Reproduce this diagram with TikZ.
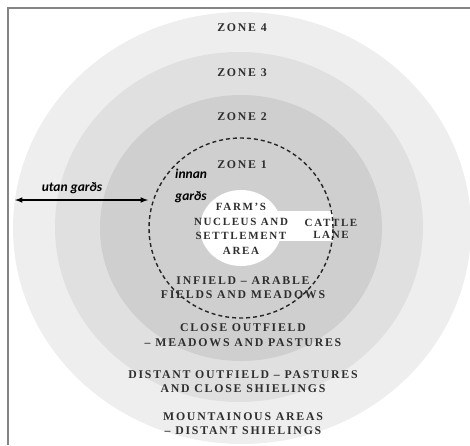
\documentclass[tikz,border=0pt]{standalone}
\usepackage{fontspec}
\setmainfont{Liberation Serif}
\newfontfamily\zonefont{Liberation Serif}[LetterSpace=15]
\newfontfamily\gardfont{Carlito}
\usetikzlibrary{positioning}
\usetikzlibrary{arrows}
\definecolor{zonefour}{HTML}{EEEEEE}
\definecolor{zonethree}{HTML}{E0E0E0}
\definecolor{zonetwo}{HTML}{CFCFCF}
\definecolor{textgrey}{HTML}{2E2E2E}
\definecolor{framegrey}{HTML}{858585}
\tikzstyle{zonelabel}=[font=\zonefont\bfseries\fontsize{11.8}{14.5}\selectfont,text=textgrey,align=center,inner sep=0pt]
\tikzstyle{smallzonelabel}=[zonelabel,font=\zonefont\bfseries\fontsize{11}{14.6}\selectfont]
\tikzstyle{gardlabel}=[font=\gardfont\bfseries\itshape\fontsize{13.5}{22}\selectfont,inner sep=0pt]
\tikzstyle{gardedge} = [draw,line width=1.5pt,<->,>=latex]
\tikzstyle{fence} = [draw=black!85,line width=1.4pt,dash pattern=on 4pt off 3pt]

\begin{document}
\begin{tikzpicture}[x=1pt,y=-1pt]
  \useasboundingbox (0,0) rectangle (470,445);

  % the four zones round the farm
  \fill[zonefour]  (242,228) ellipse [x radius=229pt, y radius=216pt];
  \fill[zonethree] (239,227) ellipse [x radius=184pt, y radius=175pt];
  \fill[zonetwo]   (241,228) ellipse [x radius=141pt, y radius=133pt];

  % farm nucleus and cattle lane
  \fill[white] (241,211) rectangle (333,241);
  \fill[white] (241,228) ellipse [x radius=41pt, y radius=38pt];

  % innan gards fence
  \draw[fence] (241,228) ellipse [x radius=92pt, y radius=90pt];

  \draw[framegrey, line width=2pt] (8,445) -- (8,8) -- (470,8);

  \foreach \name/\y/\num in {zfour/28/4, zthree/73/3, ztwo/117/2, zone/165/1}
        \node[zonelabel] (\name) at (242,\y) {ZONE \num};

  \node[smallzonelabel] (nucleus) at (241,229) {FARM’S\\NUCLEUS AND\\SETTLEMENT\\AREA};
  \node[smallzonelabel] (cattle) at (331,229) {CATTLE\\[-2.5pt]LANE};
  \node[zonelabel] (infield) at (243,287.5) {INFIELD – ARABLE\\FIELDS AND MEADOWS};
  \node[zonelabel] (closeout) at (243,335) {CLOSE OUTFIELD\\– MEADOWS AND PASTURES};
  \node[zonelabel] (distout) at (243,381.5) {DISTANT OUTFIELD – PASTURES\\AND CLOSE SHIELINGS};
  \node[zonelabel] (mountain) at (243,423.5) {MOUNTAINOUS AREAS\\– DISTANT SHIELINGS};

  \node[gardlabel] (utan) at (72,188) {utan garðs};
  \node[gardlabel,anchor=west,align=left] (innan) at (175,186) {innan\\garðs};

  \coordinate (utanL) at (15,200);
  \coordinate (utanR) at (148,200);
  \path[gardedge] (utanL) -- (utanR);
\end{tikzpicture}
\end{document}
